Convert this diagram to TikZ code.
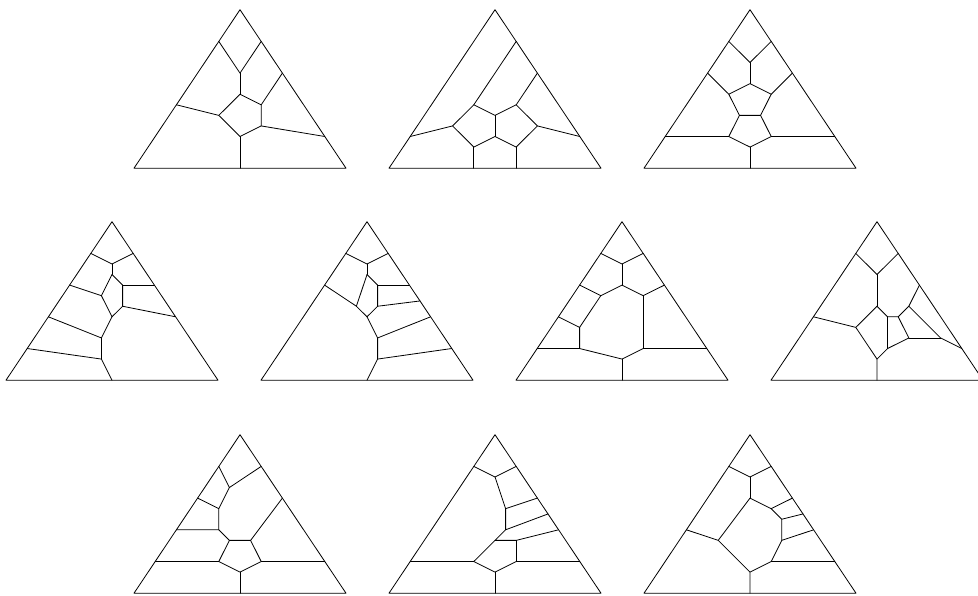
\documentclass[tikz,border=0pt]{standalone}
\begin{document}
\tikzset{
  edge/.style={line width=0.8pt, line join=round, line cap=round},
  cell/.style={x=21.2pt, y=-31.7pt},
}
\newcommand\trioutline{\draw[edge] (0,0)--(-5,5)--(5,5)--cycle;}
\begin{tikzpicture}[x=1pt,y=-1pt]
\useasboundingbox (0,0) rectangle (978,595);
\clip (0,0) rectangle (978,595);
% ---------- Row 1 ----------
\begin{scope}[shift={(240,9.7)}, cell]
  \trioutline
  \draw[edge] (-1,1)--(0,2)--(1,1);
  \draw[edge] (0,2)--(0,8/3);
  \draw[edge] (0,8/3)--(1,3)--(1,11/3)--(0,4)--(-1,10/3)--cycle;
  \draw[edge] (-1,10/3)--(-3,3);
  \draw[edge] (1,11/3)--(4,4);
  \draw[edge] (1,3)--(2,2);
  \draw[edge] (0,4)--(0,5);
\end{scope}
\begin{scope}[shift={(495,9.7)}, cell]
  \trioutline
  \draw[edge] (1,1)--(-1,3);
  \draw[edge] (2,2)--(1,3);
  \draw[edge] (-1,3)--(0,10/3)--(1,3);
  \draw[edge] (0,10/3)--(0,4);
  \draw[edge] (-1,3)--(-2,11/3)--(-1,13/3)--(0,4)--(1,13/3)--(2,11/3)--(1,3);
  \draw[edge] (-2,11/3)--(-4,4);
  \draw[edge] (2,11/3)--(4,4);
  \draw[edge] (-1,13/3)--(-1,5);
  \draw[edge] (1,13/3)--(1,5);
\end{scope}
\begin{scope}[shift={(750,9.7)}, cell]
  \trioutline
  \draw[edge] (-1,1)--(0,5/3)--(1,1);
  \draw[edge] (0,5/3)--(0,7/3);
  \draw[edge] (-2,2)--(-1,8/3);
  \draw[edge] (2,2)--(1,8/3);
  \draw[edge] (0,7/3)--(1,8/3)--(0.5,10/3)--(-0.5,10/3)--(-1,8/3)--cycle;
  \draw[edge] (-0.5,10/3)--(-1,4);
  \draw[edge] (0.5,10/3)--(1,4);
  \draw[edge] (-4,4)--(-1,4)--(0,13/3)--(1,4)--(4,4);
  \draw[edge] (0,13/3)--(0,5);
\end{scope}
% ---------- Row 2 ----------
\begin{scope}[shift={(112,221.7)}, cell]
  \trioutline
  \draw[edge] (-1,1)--(0,4/3)--(1,1);
  \draw[edge] (0,4/3)--(0,5/3);
  \draw[edge] (0,5/3)--(-0.5,7/3);
  \draw[edge] (0,5/3)--(0.5,2);
  \draw[edge] (-2,2)--(-0.5,7/3)--(0,3);
  \draw[edge] (0.5,2)--(0.5,8/3)--(0,3);
  \draw[edge] (0.5,2)--(2,2);
  \draw[edge] (0.5,8/3)--(3,3);
  \draw[edge] (0,3)--(-0.5,11/3);
  \draw[edge] (-3,3)--(-0.5,11/3)--(-0.5,13/3);
  \draw[edge] (-4,4)--(-0.5,13/3)--(0,5);
\end{scope}
\begin{scope}[shift={(367,221.7)}, cell]
  \trioutline
  \draw[edge] (-1,1)--(0,4/3)--(1,1);
  \draw[edge] (0,4/3)--(0,5/3);
  \draw[edge] (0,5/3)--(-0.5,8/3);
  \draw[edge] (0,5/3)--(0.5,2);
  \draw[edge] (-2,2)--(-0.5,8/3)--(0,3);
  \draw[edge] (0.5,2)--(0.5,8/3)--(0,3);
  \draw[edge] (0.5,2)--(2,2);
  \draw[edge] (0.5,8/3)--(2.5,2.5);
  \draw[edge] (0,3)--(0.5,11/3)--(0.5,13/3)--(0,5);
  \draw[edge] (0.5,11/3)--(3,3);
  \draw[edge] (0.5,13/3)--(4,4);
\end{scope}
\begin{scope}[shift={(622,221.7)}, cell]
  \trioutline
  \draw[edge] (-1,1)--(0,4/3)--(1,1);
  \draw[edge] (0,4/3)--(0,2);
  \draw[edge] (-2,2)--(-1,7/3)--(0,2)--(1,7/3)--(2,2);
  \draw[edge] (-1,7/3)--(-2,10/3);
  \draw[edge] (-3,3)--(-2,10/3)--(-2,4);
  \draw[edge] (-4,4)--(-2,4)--(0,13/3)--(1,4)--(4,4);
  \draw[edge] (1,7/3)--(1,4);
  \draw[edge] (0,13/3)--(0,5);
\end{scope}
\begin{scope}[shift={(877,221.7)}, cell]
  \trioutline
  \draw[edge] (-1,1)--(0,5/3)--(1,1);
  \draw[edge] (0,5/3)--(0,8/3);
  \draw[edge] (0,8/3)--(-1,10/3);
  \draw[edge] (-3,3)--(-1,10/3)--(0,13/3)--(0,5);
  \draw[edge] (0,8/3)--(0.5,3)--(1,3)--(1.5,8/3)--(2,2);
  \draw[edge] (0.5,3)--(0.5,4);
  \draw[edge] (1,3)--(1.5,11/3);
  \draw[edge] (1.5,8/3)--(3,11/3)--(4,4);
  \draw[edge] (1.5,11/3)--(3,11/3);
  \draw[edge] (0.5,4)--(1.5,11/3);
  \draw[edge] (0.5,4)--(0,13/3);
\end{scope}
% ---------- Row 3 ----------
\begin{scope}[shift={(240,434.7)}, cell]
  \trioutline
  \draw[edge] (-1,1)--(-0.5,5/3)--(1,1);
  \draw[edge] (-0.5,5/3)--(-1,7/3);
  \draw[edge] (-2,2)--(-1,7/3)--(-1,3);
  \draw[edge] (-3,3)--(-1,3)--(-0.5,10/3)--(0.5,10/3)--(2,2);
  \draw[edge] (-0.5,10/3)--(-1,4);
  \draw[edge] (0.5,10/3)--(1,4);
  \draw[edge] (-4,4)--(-1,4)--(0,13/3)--(1,4)--(4,4);
  \draw[edge] (0,13/3)--(0,5);
\end{scope}
\begin{scope}[shift={(495,434.7)}, cell]
  \trioutline
  \draw[edge] (-1,1)--(0,4/3)--(1,1);
  \draw[edge] (0,4/3)--(0.5,7/3)--(2,2);
  \draw[edge] (0.5,7/3)--(0.5,3)--(2.5,2.5);
  \draw[edge] (0.5,3)--(0,10/3)--(1,10/3)--(3,3);
  \draw[edge] (1,10/3)--(1,4);
  \draw[edge] (0,10/3)--(-1,4);
  \draw[edge] (-4,4)--(-1,4)--(0,13/3)--(1,4)--(4,4);
  \draw[edge] (0,13/3)--(0,5);
\end{scope}
\begin{scope}[shift={(750,434.7)}, cell]
  \trioutline
  \draw[edge] (-1,1)--(0,4/3)--(1,1);
  \draw[edge] (0,4/3)--(0,2);
  \draw[edge] (0,2)--(-1.5,10/3);
  \draw[edge] (-3,3)--(-1.5,10/3)--(0,13/3)--(0,5);
  \draw[edge] (0,2)--(1,7/3)--(2,2);
  \draw[edge] (1,7/3)--(1.5,8/3)--(2.5,2.5);
  \draw[edge] (1.5,8/3)--(1.5,10/3)--(3,3);
  \draw[edge] (1.5,10/3)--(1,4)--(4,4);
  \draw[edge] (1,4)--(0,13/3);
\end{scope}
\end{tikzpicture}
\end{document}
